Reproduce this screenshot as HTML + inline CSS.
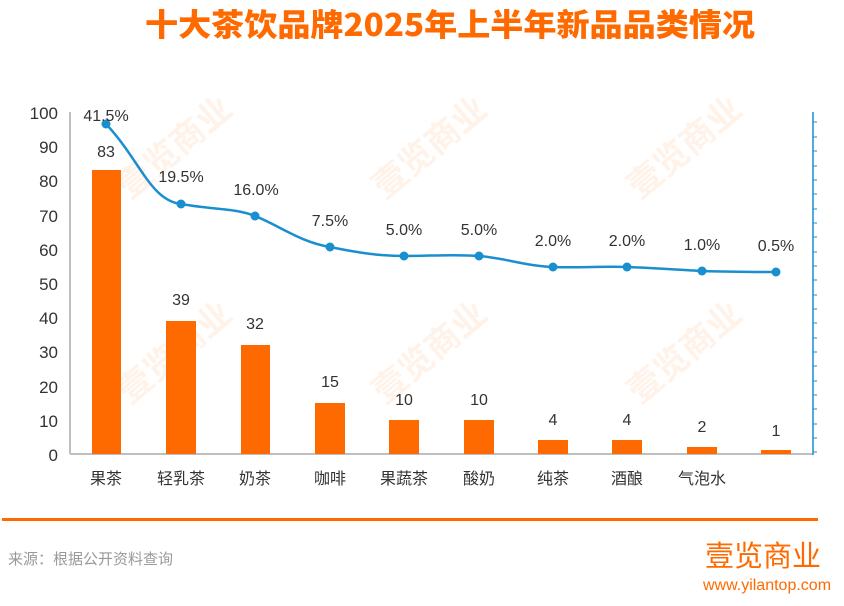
<!DOCTYPE html>
<html><head><meta charset="utf-8"><style>
body{margin:0;background:#fff;width:844px;height:601px;overflow:hidden}
text{font-family:"Liberation Sans","Noto Sans CJK SC",sans-serif}
</style></head><body>
<svg width="844" height="601" viewBox="0 0 844 601" xmlns="http://www.w3.org/2000/svg">
<text x="450" y="36" text-anchor="middle" font-size="31" font-weight="bold" fill="#ff6a00" textLength="610" lengthAdjust="spacingAndGlyphs" style="font-family:'Noto Sans CJK SC',sans-serif;font-weight:900">十大茶饮品牌2025年上半年新品品类情况</text>
<g fill="#ff6a00" opacity="0.09" font-size="34" font-weight="bold" style="font-family:'Noto Sans CJK SC',sans-serif">
<text transform="translate(130,200) rotate(-40)">壹览商业</text>
<text transform="translate(385,200) rotate(-40)">壹览商业</text>
<text transform="translate(640,200) rotate(-40)">壹览商业</text>
<text transform="translate(130,405) rotate(-40)">壹览商业</text>
<text transform="translate(385,405) rotate(-40)">壹览商业</text>
<text transform="translate(640,405) rotate(-40)">壹览商业</text>
</g>
<line x1="70" y1="112" x2="70" y2="454" stroke="#bfbfbf" stroke-width="2"/>
<line x1="70" y1="454" x2="813" y2="454" stroke="#bfbfbf" stroke-width="2"/>
<line x1="813" y1="112" x2="813" y2="455" stroke="#1a8fd0" stroke-width="1.5"/>
<g stroke="#1a8fd0" stroke-width="1">
<path d="M813 122h4M813 137h4M813 151h4M813 166h4M813 180h4M813 194h4M813 209h4M813 223h4M813 237h4M813 252h4M813 266h4M813 280h4M813 295h4M813 309h4M813 323h4M813 338h4M813 352h4M813 366h4M813 381h4M813 395h4M813 409h4M813 424h4M813 438h4M813 452h4"/>
</g>
<g font-size="17" fill="#333" text-anchor="end">
<text x="58" y="119">100</text><text x="58" y="153">90</text><text x="58" y="187">80</text><text x="58" y="222">70</text><text x="58" y="256">60</text><text x="58" y="290">50</text><text x="58" y="324">40</text><text x="58" y="358">30</text><text x="58" y="393">20</text><text x="58" y="427">10</text><text x="58" y="461">0</text>
</g>
<g fill="#ff6a00">
<rect x="92" y="170" width="29" height="284"/>
<rect x="166" y="321" width="30" height="133"/>
<rect x="241" y="345" width="29" height="109"/>
<rect x="315" y="403" width="30" height="51"/>
<rect x="389" y="420" width="30" height="34"/>
<rect x="464" y="420" width="30" height="34"/>
<rect x="538" y="440" width="30" height="14"/>
<rect x="612" y="440" width="30" height="14"/>
<rect x="687" y="447" width="30" height="7"/>
<rect x="761" y="450" width="30" height="4"/>
</g>
<g font-size="16" fill="#333" text-anchor="middle">
<text x="106" y="157">83</text><text x="181" y="305">39</text><text x="255" y="329">32</text><text x="330" y="387">15</text><text x="404" y="405">10</text><text x="479" y="405">10</text><text x="553" y="425">4</text><text x="627" y="425">4</text><text x="702" y="432">2</text><text x="776" y="436">1</text>
</g>
<path d="M106 124 C140 160,150 200,181 204 C215 210,235 208,255 216 C280 226,300 242,330 247 C360 253,380 256,404 256 C430 256,455 254,479 256 C505 258,525 266,553 267 C580 268,605 266,627 267 C655 268,680 270,702 271 C730 272,760 272,776 272" fill="none" stroke="#1a8fd0" stroke-width="2.5"/>
<g fill="#1a8fd0">
<circle cx="106" cy="124" r="4.5"/><circle cx="181" cy="204" r="4.5"/><circle cx="255" cy="216" r="4.5"/><circle cx="330" cy="247" r="4.5"/><circle cx="404" cy="256" r="4.5"/><circle cx="479" cy="256" r="4.5"/><circle cx="553" cy="267" r="4.5"/><circle cx="627" cy="267" r="4.5"/><circle cx="702" cy="271" r="4.5"/><circle cx="776" cy="272" r="4.5"/>
</g>
<g font-size="16" fill="#333" text-anchor="middle">
<text x="106" y="121">41.5%</text><text x="181" y="182">19.5%</text><text x="256" y="195">16.0%</text><text x="330" y="226">7.5%</text><text x="404" y="235">5.0%</text><text x="479" y="235">5.0%</text><text x="553" y="246">2.0%</text><text x="627" y="246">2.0%</text><text x="702" y="250">1.0%</text><text x="776" y="251">0.5%</text>
</g>
<g font-size="16" fill="#333" text-anchor="middle">
<text x="106" y="484">果茶</text><text x="181" y="484">轻乳茶</text><text x="255" y="484">奶茶</text><text x="330" y="484">咖啡</text><text x="404" y="484">果蔬茶</text><text x="479" y="484">酸奶</text><text x="553" y="484">纯茶</text><text x="627" y="484">酒酿</text><text x="702" y="484">气泡水</text>
</g>
<rect x="2" y="518" width="816" height="3" fill="#ff6a00"/>
<text x="8" y="564" font-size="15" fill="#999">来源：根据公开资料查询</text>
<text x="763" y="566" text-anchor="middle" font-size="29" fill="#ff6a00" style="font-family:'Noto Sans CJK SC',sans-serif">壹览商业</text>
<text x="767" y="590" text-anchor="middle" font-size="16" fill="#ff6a00">www.yilantop.com</text>
</svg>
</body></html>
